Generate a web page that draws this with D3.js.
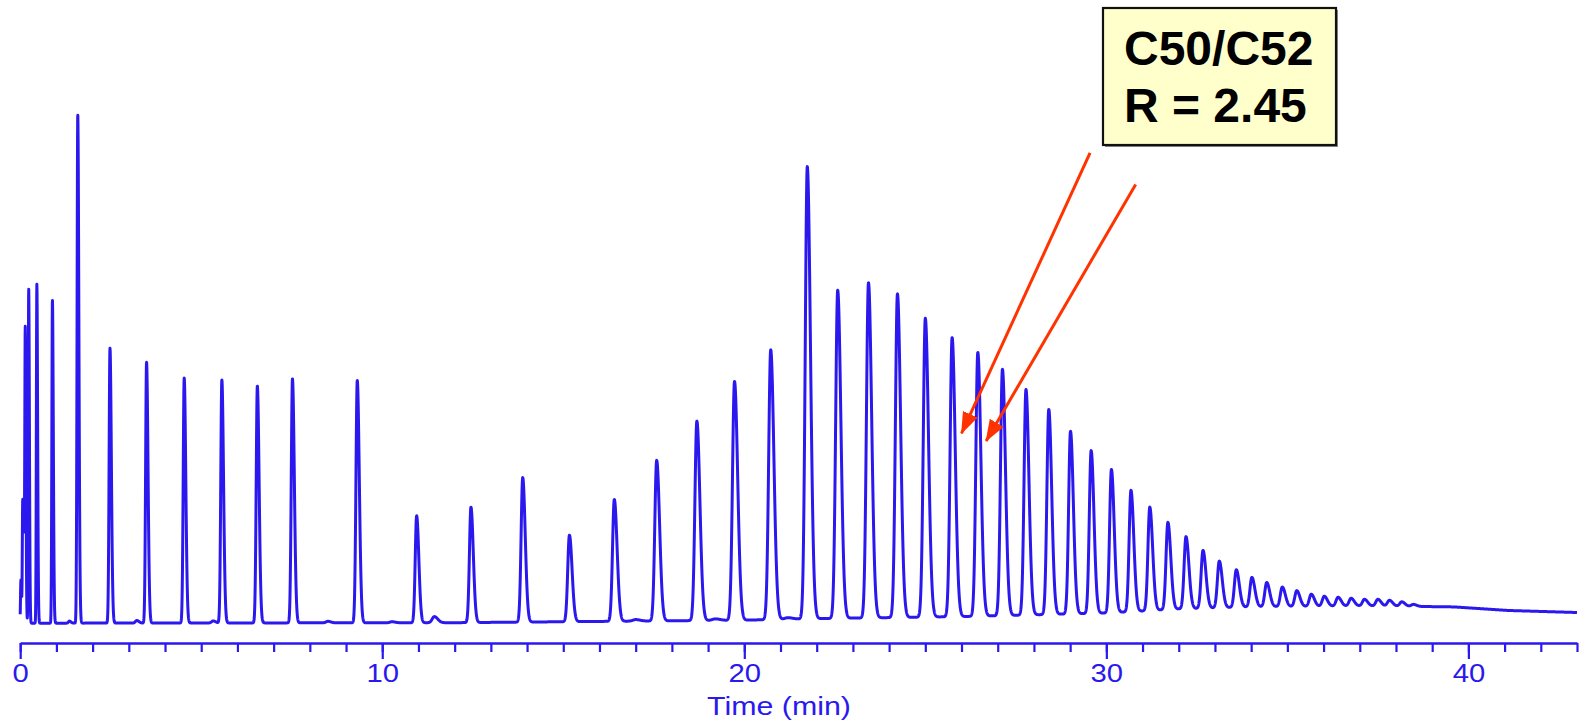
<!DOCTYPE html>
<html>
<head>
<meta charset="utf-8">
<script src="https://cdn.jsdelivr.net/npm/d3@7"></script>
<style>
  body { margin: 0; background: #fff; }
  svg { display: block; }
</style>
</head>
<body>
<div id="chart"></div>
<script>
// Retention times (min) and apex heights (signal, tallest = 100)
var peakTimes = [0.02, 0.07, 0.105, 0.14, 0.235, 0.46, 0.89, 1.59, 2.48, 3.49, 4.53, 5.57, 6.55, 7.52, 9.31,
  10.95, 12.45, 13.88, 15.17, 16.41, 17.58, 18.69, 19.73, 20.73,
  21.74, 22.58, 23.43, 24.23, 25.00, 25.74, 26.45, 27.13, 27.78, 28.41, 29.01, 29.58, 30.14, 30.68, 31.20, 31.70,
  32.20, 32.67, 33.12, 33.59, 34.02, 34.43, 34.86, 35.26, 35.66, 36.02, 36.40, 36.76, 37.13, 37.50, 37.82, 38.16, 38.48];
var peakHeights = [8.5, 24.1, 14, 56.1, 65.7, 66.6, 63.6, 100, 54.0, 51.3, 48.2, 47.8, 46.6, 48.0, 47.7,
  21.1, 22.8, 28.6, 17.3, 24.3, 32.0, 39.7, 47.5, 53.7,
  89.7, 65.4, 66.9, 64.7, 59.9, 56.1, 53.2, 49.9, 45.9, 42.0, 37.7, 33.9, 30.2, 26.1, 22.8, 19.8,
  17.0, 14.3, 12.2, 10.5, 9.0, 8.0, 7.1, 6.4, 5.7, 5.3, 5.1, 4.9, 4.7, 4.7, 4.5, 4.2, 3.7];

// small bumps between the main peaks
var bumpTimes = [1.36, 3.22, 5.33, 8.5, 10.27, 11.44, 17.0, 19.2, 21.2];
var bumpHeights = [0.4, 0.5, 0.4, 0.3, 0.2, 1.2, 0.3, 0.3, 0.3];

// baseline drift / unresolved hump
var baseTimes = [0, 12, 20, 22, 26, 30, 32, 34, 37, 38.5, 39.6, 41.1, 43];
var baseLevels = [0, 0.1, 0.6, 0.9, 1.3, 2.0, 2.8, 3.2, 3.4, 3.3, 3.2, 2.5, 2.1];

// peak width (sigma, min) along the run
var widthTimes = [0, 1, 2.5, 10, 20, 25, 30, 38];
var widthSigmas = [0.014, 0.02, 0.03, 0.046, 0.07, 0.07, 0.062, 0.07];

var majorTicks = [0, 10, 20, 30, 40];
var minorTicks = d3.range(0, 44, 1);

var calloutLines = ["C50/C52", "R = 2.45"];
var arrowFrom = [[29.55, 92.4], [30.81, 86.2]];
var arrowTo = [[26.0, 37.3], [26.68, 35.8]];

var blue = "#2a18ee";
var red = "#ff3300";

var W = 1580, H = 722;

var svg = d3.select("#chart")
  .append("svg")
  .attr("width", W)
  .attr("height", H);

var x = d3.scaleLinear().domain([0, 43]).range([20.2, 1577]);
var y = d3.scaleLinear().domain([0, 100]).range([623.2, 114.2]);

var base = d3.scaleLinear().domain(baseTimes).range(baseLevels);
var sigmaAt = d3.scaleLinear().domain(widthTimes).range(widthSigmas).clamp(true);

// build peak list (amplitude above local baseline)
var peaks = peakTimes.map((t, i) => ({ t: t, a: Math.max(peakHeights[i] - base(t), 0), s: sigmaAt(t) }));
bumpTimes.forEach((t, i) => peaks.push({ t: t, a: bumpHeights[i], s: sigmaAt(t) * 1.5 }));

function signal(t) {
  var v = base(t);
  for (var p of peaks) {
    var d = t - p.t;
    var s = d < 0 ? p.s * 0.8 : p.s * 1.25;   // slight tailing
    if (Math.abs(d) > 8 * s) continue;
    v += p.a * Math.exp(-0.5 * (d / s) * (d / s));
  }
  return v;
}

var trace = d3.range(0, 43.0001, 0.004).map(t => [t, signal(t)]);

var line = d3.line()
  .x(d => x(d[0]))
  .y(d => y(d[1]));

svg.append("path")
  .datum(trace)
  .attr("fill", "none")
  .attr("stroke", blue)
  .attr("stroke-width", 3)
  .attr("stroke-linejoin", "round")
  .attr("d", line);

// X-axis: minor ticks
var axisY = 643;
svg.append("g")
  .attr("transform", `translate(0, ${axisY})`)
  .call(d3.axisBottom(x).tickValues(minorTicks).tickSize(9).tickSizeOuter(0).tickFormat(""))
  .call(g => g.selectAll("line").attr("stroke", blue).attr("stroke-width", 2.2))
  .call(g => g.select(".domain").attr("stroke", blue).attr("stroke-width", 2.5));

// X-axis: major ticks with labels
svg.append("g")
  .attr("transform", `translate(0, ${axisY})`)
  .call(d3.axisBottom(x).tickValues(majorTicks).tickSize(16).tickSizeOuter(0).tickPadding(5).tickFormat(d3.format("d")))
  .call(g => g.select(".domain").remove())
  .call(g => g.selectAll("line").attr("stroke", blue).attr("stroke-width", 2.2))
  .call(g => g.selectAll("text")
    .attr("fill", blue)
    .attr("font-family", "Arial, 'Liberation Sans', sans-serif")
    .attr("font-size", 25)
    .attr("transform", "scale(1.17,1)"));

// x-axis label
svg.append("text")
  .attr("transform", `translate(779, 715) scale(1.19,1)`)
  .attr("text-anchor", "middle")
  .attr("fill", blue)
  .attr("font-family", "Arial, 'Liberation Sans', sans-serif")
  .attr("font-size", 25.5)
  .text("Time (min)");

// arrows
var defs = svg.append("defs");
defs.append("marker")
  .attr("id", "head")
  .attr("markerUnits", "userSpaceOnUse")
  .attr("viewBox", "0 0 22 16")
  .attr("markerWidth", 22)
  .attr("markerHeight", 16)
  .attr("refX", 21)
  .attr("refY", 8)
  .attr("orient", "auto")
  .append("path")
  .attr("d", "M0,0 L22,8 L0,16 Z")
  .attr("fill", red);

svg.selectAll(".arrow")
  .data(arrowFrom)
  .enter()
  .append("line")
  .attr("class", "arrow")
  .attr("x1", d => x(d[0]))
  .attr("y1", d => y(d[1]))
  .attr("x2", (d, i) => x(arrowTo[i][0]))
  .attr("y2", (d, i) => y(arrowTo[i][1]))
  .attr("stroke", red)
  .attr("stroke-width", 3)
  .attr("marker-end", "url(#head)");

// callout box
var box = svg.append("g").attr("transform", "translate(1103, 8)");
box.append("rect")
  .attr("x", 2).attr("y", 2)
  .attr("width", 233).attr("height", 137)
  .attr("fill", "#8a8a8a");
box.append("rect")
  .attr("width", 233).attr("height", 137)
  .attr("fill", "#ffffcc")
  .attr("stroke", "#111")
  .attr("stroke-width", 2.2);
box.selectAll("text")
  .data(calloutLines)
  .enter()
  .append("text")
  .attr("x", 21)
  .attr("y", (d, i) => 57 + i * 56.7)
  .attr("font-family", "Arial, 'Liberation Sans', sans-serif")
  .attr("font-weight", "bold")
  .attr("font-size", 48)
  .attr("fill", "#000")
  .text(d => d);
</script>
</body>
</html>
